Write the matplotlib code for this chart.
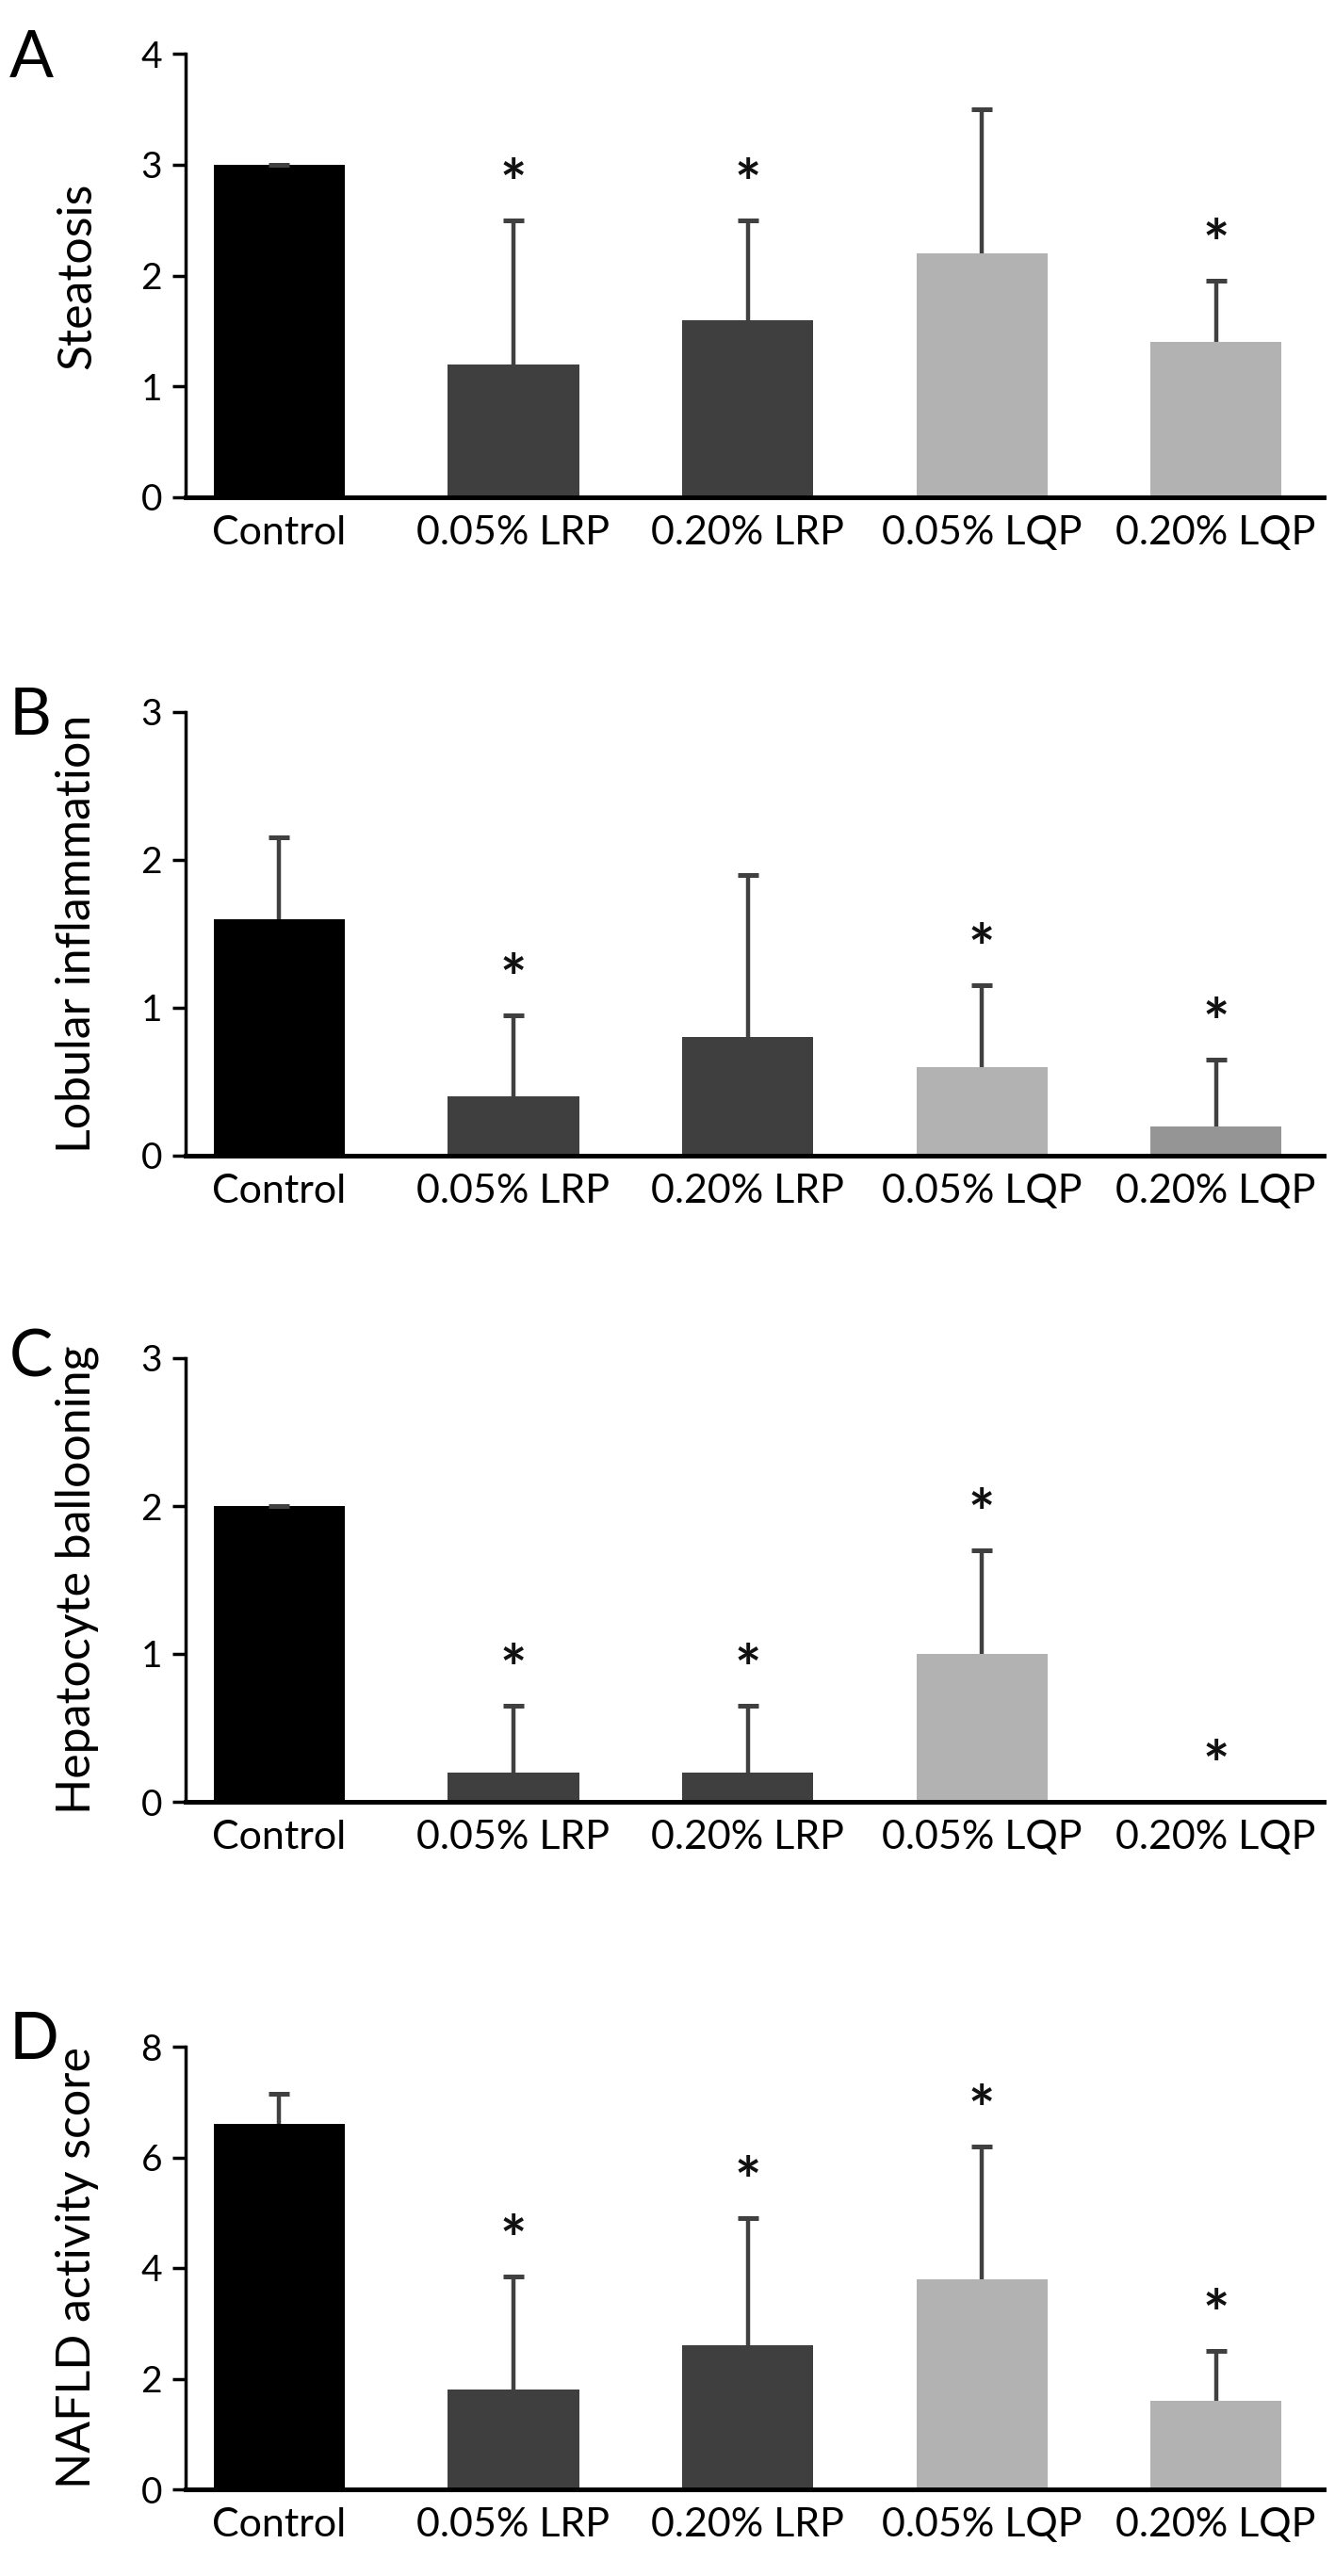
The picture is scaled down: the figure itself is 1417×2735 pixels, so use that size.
import numpy as np
import matplotlib
matplotlib.use("Agg")
import matplotlib.pyplot as plt

plt.rcParams['font.family'] = ['Lato', 'DejaVu Sans']

# groupes et valeurs (moyenne, ecart-type)
groupes = ["Control", "0.05% LRP", "0.20% LRP", "0.05% LQP", "0.20% LQP"]

steatose = [3.0, 1.2, 1.6, 2.2, 1.4]
steatose_sd = [0.0, 1.3, 0.9, 1.3, 0.55]
steatose_sig = [False, True, True, False, True]

inflammation = [1.6, 0.4, 0.8, 0.6, 0.2]
inflammation_sd = [0.55, 0.55, 1.1, 0.55, 0.45]
inflammation_sig = [False, True, False, True, True]

ballooning = [2.0, 0.2, 0.2, 1.0, 0.0]
ballooning_sd = [0.0, 0.45, 0.45, 0.7, 0.0]
ballooning_sig = [False, True, True, True, True]

nas = [6.6, 1.8, 2.6, 3.8, 1.6]
nas_sd = [0.55, 2.05, 2.3, 2.4, 0.9]
nas_sig = [False, True, True, True, True]

couleurs = ["#000000", "#3f3f3f", "#3f3f3f", "#b2b2b2", "#b2b2b2"]
couleurs_b = ["#000000", "#3f3f3f", "#3f3f3f", "#b2b2b2", "#959595"]

panneaux = [
    ("A", "Steatosis", steatose, steatose_sd, steatose_sig, 4, 1, couleurs),
    ("B", "Lobular inflammation", inflammation, inflammation_sd, inflammation_sig, 3, 1, couleurs_b),
    ("C", "Hepatocyte ballooning", ballooning, ballooning_sd, ballooning_sig, 3, 1, couleurs),
    ("D", "NAFLD activity score", nas, nas_sd, nas_sig, 8, 2, couleurs),
]

W, H = 1417, 2735
fig = plt.figure(figsize=(W / 100, H / 100), dpi=100)

# haut et bas de chaque axe en pixels
cadres = [(57, 528), (756, 1227), (1442, 1913), (2173, 2643)]
lettres_base = [82, 780, 1462, 2186]
x0, x1 = 197, 1405

x = np.arange(len(groupes))
for (lettre, titre_y, moy, sd, sig, ymax, pas, coul), (top, bot), lb in zip(panneaux, cadres, lettres_base):
    ax = fig.add_axes([x0 / W, 1 - bot / H, (x1 - x0) / W, (bot - top) / H])
    ax.bar(x, moy, width=0.56, color=coul, zorder=1)
    # barre d'erreur vers le haut seulement, cap seulement en haut
    haut = np.add(moy, sd)
    ax.vlines(x, moy, haut, colors="#404040", linewidth=3.2, zorder=2)
    ax.plot(x, haut, ls="none", marker="_", ms=16, mew=3.6, color="#404040", zorder=2)
    for i in range(len(moy)):
        if sig[i]:
            ax.annotate("*", xy=(x[i], haut[i]), xytext=(0, 16), textcoords="offset pixels",
                        ha="center", va="baseline", fontsize=48, fontweight="bold", color="#111111")
    ax.set_xlim(-0.4, 4.46)
    ax.set_ylim(0, ymax)
    ax.set_yticks(np.arange(0, ymax + 0.01, pas))
    ax.set_xticks(x)
    ax.set_xticklabels(groupes, fontsize=31)
    ax.tick_params(axis="x", length=0, pad=14)
    ax.tick_params(axis="y", length=10, width=2.5, labelsize=28, pad=8, direction="out")
    for s in ["top", "right"]:
        ax.spines[s].set_visible(False)
    ax.spines["left"].set_linewidth(2.5)
    ax.spines["bottom"].set_linewidth(3.6)
    ax.set_ylabel(titre_y, fontsize=36, va="center", ha="center")
    ax.yaxis.set_label_coords(-0.095, 0.5)
    fig.text(10 / W, 1 - lb / H, lettre, fontsize=50, ha="left", va="baseline")

fig.savefig("out.png", dpi=100)
